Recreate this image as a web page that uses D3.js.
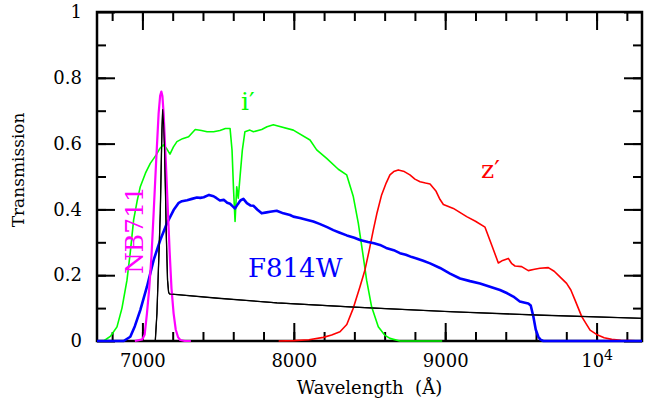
<!DOCTYPE html>
<html>
<head>
<meta charset="utf-8">
<script src="https://cdn.jsdelivr.net/npm/d3@7"></script>
<style>
  body { margin: 0; background: #fff; }
  svg text { font-family: "DejaVu Serif", serif !important; }
</style>
</head>
<body>
<div id="d3-container"></div>
<script>
/* CONSTANTS AND GLOBALS */
const width = 657,
  height = 403,
  margin = { top: 12, bottom: 62, left: 97, right: 15 };

/* DATA */
// i' filter
const iWave = [6700, 6744, 6790, 6832, 6865, 6898, 6920, 6942, 6965, 6986, 7020, 7052, 7090, 7115, 7138, 7160, 7182, 7205, 7228, 7265, 7305, 7349, 7390, 7427, 7470, 7512, 7548, 7579, 7592, 7602, 7612, 7618, 7623, 7633, 7645, 7660, 7677, 7710, 7733, 7788, 7823, 7865, 7889, 7997, 8107, 8151, 8217, 8294, 8349, 8393, 8426, 8459, 8481, 8514, 8558, 8600, 8635, 8700, 8980];
const iTrans = [0, 0, 0.015, 0.043, 0.1, 0.185, 0.27, 0.368, 0.425, 0.469, 0.51, 0.54, 0.565, 0.585, 0.596, 0.585, 0.568, 0.59, 0.606, 0.615, 0.621, 0.643, 0.64, 0.636, 0.636, 0.64, 0.646, 0.646, 0.58, 0.46, 0.363, 0.42, 0.469, 0.434, 0.5, 0.58, 0.636, 0.641, 0.636, 0.643, 0.651, 0.657, 0.654, 0.641, 0.611, 0.581, 0.555, 0.522, 0.505, 0.439, 0.358, 0.256, 0.185, 0.104, 0.043, 0.018, 0.008, 0, 0];

// z' filter
const zWave = [7900, 8000, 8100, 8195, 8250, 8305, 8350, 8393, 8437, 8470, 8500, 8525, 8550, 8580, 8610, 8635, 8660, 8690, 8730, 8767, 8800, 8834, 8870, 8900, 8940, 8966, 8988, 9054, 9142, 9200, 9263, 9307, 9351, 9380, 9417, 9440, 9461, 9505, 9549, 9590, 9626, 9681, 9720, 9758, 9802, 9830, 9857, 9902, 9957, 10000, 10050, 10100, 10160, 10220, 10300];
const zTrans = [0, 0.001, 0.004, 0.011, 0.018, 0.028, 0.05, 0.1, 0.165, 0.216, 0.28, 0.337, 0.39, 0.444, 0.48, 0.505, 0.515, 0.52, 0.515, 0.505, 0.492, 0.484, 0.48, 0.477, 0.455, 0.43, 0.415, 0.403, 0.378, 0.364, 0.346, 0.292, 0.237, 0.245, 0.251, 0.235, 0.228, 0.226, 0.214, 0.218, 0.221, 0.223, 0.212, 0.195, 0.175, 0.155, 0.125, 0.074, 0.033, 0.02, 0.01, 0.005, 0.002, 0.001, 0];

// F814W filter
const fWave = [6700, 6800, 6876, 6920, 6950, 6986, 7030, 7074, 7118, 7162, 7206, 7240, 7261, 7295, 7327, 7360, 7382, 7405, 7440, 7470, 7490, 7512, 7537, 7560, 7579, 7595, 7612, 7630, 7647, 7667, 7690, 7713, 7733, 7760, 7788, 7820, 7843, 7887, 7931, 7975, 7997, 8040, 8090, 8129, 8170, 8220, 8261, 8300, 8350, 8400, 8437, 8490, 8530, 8569, 8610, 8660, 8701, 8740, 8780, 8811, 8855, 8900, 8966, 9032, 9098, 9164, 9230, 9296, 9362, 9410, 9450, 9493, 9520, 9549, 9565, 9582, 9598, 9615, 9630, 9648, 10300];
const fTrans = [0, 0, 0, 0.013, 0.045, 0.094, 0.165, 0.246, 0.307, 0.358, 0.398, 0.42, 0.425, 0.428, 0.432, 0.436, 0.435, 0.437, 0.444, 0.44, 0.434, 0.427, 0.429, 0.42, 0.417, 0.41, 0.403, 0.416, 0.427, 0.432, 0.419, 0.412, 0.411, 0.399, 0.388, 0.391, 0.393, 0.396, 0.388, 0.383, 0.378, 0.374, 0.368, 0.363, 0.356, 0.346, 0.337, 0.33, 0.321, 0.314, 0.307, 0.301, 0.297, 0.292, 0.283, 0.276, 0.267, 0.262, 0.255, 0.251, 0.244, 0.236, 0.222, 0.205, 0.19, 0.182, 0.175, 0.165, 0.155, 0.145, 0.135, 0.12, 0.117, 0.114, 0.108, 0.075, 0.035, 0.013, 0.004, 0, 0];

// NB711 filter
const nbWave = [6950, 7000, 7015, 7030, 7045, 7060, 7074, 7090, 7107, 7117, 7125, 7132, 7140, 7155, 7169, 7180, 7192, 7206, 7220, 7235, 7250, 7280, 7320];
const nbTrans = [0, 0.005, 0.02, 0.084, 0.16, 0.26, 0.388, 0.54, 0.692, 0.745, 0.758, 0.745, 0.692, 0.54, 0.388, 0.27, 0.16, 0.084, 0.035, 0.012, 0.003, 0, 0];

// black curve
const kWave = [7050, 7085, 7096, 7108, 7118, 7125, 7129, 7134, 7140, 7146, 7152, 7157, 7162, 7166, 7173, 7179, 7500, 7889, 8400, 9032, 9600, 10300];
const kTrans = [0, 0, 0.085, 0.25, 0.388, 0.55, 0.641, 0.704, 0.66, 0.59, 0.46, 0.337, 0.25, 0.185, 0.148, 0.143, 0.13, 0.116, 0.103, 0.089, 0.079, 0.069];

// axes
const xMajor = [7000, 8000, 9000, 10000];
const xMinor = d3.range(6800, 10300, 200);
const yMajor = [0, 0.2, 0.4, 0.6, 0.8, 1];
const yMinor = d3.range(0.1, 1, 0.1);

/* SCALES */
const xScale = d3.scaleLinear()
  .domain([6700, 10300])
  .range([margin.left, width - margin.right]);
const yScale = d3.scaleLinear()
  .domain([0, 1])
  .range([height - margin.bottom, margin.top]);

const svg = d3.select("#d3-container")
  .append("svg")
  .attr("width", width)
  .attr("height", height);

/* AXES */
function tickAxis(axis, vals, size, fmt) {
  return axis.tickValues(vals).tickSize(-size).tickFormat(fmt || "");
}
const xFmt = d3.format("d");
const yFmt = d => (d === 0 || d === 1) ? d3.format("d")(d) : d3.format(".1f")(d);

// bottom
svg.append("g").attr("class", "axis")
  .attr("transform", `translate(0,${height - margin.bottom})`)
  .call(tickAxis(d3.axisBottom(xScale), xMinor, 9));
svg.append("g").attr("class", "axis xb")
  .attr("transform", `translate(0,${height - margin.bottom})`)
  .call(tickAxis(d3.axisBottom(xScale), xMajor, 18, xFmt).tickPadding(13));
// top
svg.append("g").attr("class", "axis")
  .attr("transform", `translate(0,${margin.top})`)
  .call(tickAxis(d3.axisTop(xScale), xMinor, 9));
svg.append("g").attr("class", "axis")
  .attr("transform", `translate(0,${margin.top})`)
  .call(tickAxis(d3.axisTop(xScale), xMajor, 18));
// left
svg.append("g").attr("class", "axis")
  .attr("transform", `translate(${margin.left},0)`)
  .call(tickAxis(d3.axisLeft(yScale), yMinor, 9));
svg.append("g").attr("class", "axis")
  .attr("transform", `translate(${margin.left},0)`)
  .call(tickAxis(d3.axisLeft(yScale), yMajor, 18, yFmt).tickPadding(15));
// right
svg.append("g").attr("class", "axis")
  .attr("transform", `translate(${width - margin.right},0)`)
  .call(tickAxis(d3.axisRight(yScale), yMinor, 9));
svg.append("g").attr("class", "axis")
  .attr("transform", `translate(${width - margin.right},0)`)
  .call(tickAxis(d3.axisRight(yScale), yMajor, 18));

svg.selectAll(".axis").attr("font-family", null);
svg.selectAll(".axis .domain").remove();
svg.selectAll(".axis line").attr("stroke", "#000").attr("stroke-width", 2);
svg.selectAll(".axis text")
  .attr("font-size", 18)
  .attr("fill", "#000");

// 10^4 label
svg.selectAll(".xb .tick text")
  .filter(d => d === 10000)
  .text("10")
  .append("tspan")
  .attr("dy", "-0.45em")
  .attr("font-size", 14)
  .text("4");

/* CURVES */
const line = d3.line()
  .x(d => xScale(d[0]))
  .y(d => yScale(d[1]));

const curves = [
  { wave: kWave, trans: kTrans, color: "#000000", w: 1.3 },
  { wave: iWave, trans: iTrans, color: "#00ff00", w: 1.6 },
  { wave: zWave, trans: zTrans, color: "#ff0000", w: 1.6 },
  { wave: fWave, trans: fTrans, color: "#0000ff", w: 2.6 },
  { wave: nbWave, trans: nbTrans, color: "#ff00ff", w: 2.2 }
];

svg.append("rect")
  .attr("x", margin.left)
  .attr("y", margin.top)
  .attr("width", width - margin.left - margin.right)
  .attr("height", height - margin.top - margin.bottom)
  .attr("fill", "none")
  .attr("stroke", "#000")
  .attr("stroke-width", 2.5);

svg.selectAll(".curve")
  .data(curves)
  .join("path")
  .attr("class", "curve")
  .attr("d", c => line(c.wave.map((w, i) => [w, c.trans[i]])))
  .attr("fill", "none")
  .attr("stroke", c => c.color)
  .attr("stroke-width", c => c.w)
  .attr("stroke-linejoin", "round");

// black curve on top of NB711
svg.append("path")
  .attr("d", line(kWave.map((w, i) => [w, kTrans[i]])))
  .attr("fill", "none")
  .attr("stroke", "#000")
  .attr("stroke-width", 1.1);

/* LABELS */
svg.append("text")
  .attr("x", 241).attr("y", 110)
  .attr("font-size", 25)
  .attr("fill", "#00ff00")
  .text("i′");
svg.append("text")
  .attr("x", 481).attr("y", 178)
  .attr("font-size", 25)
  .attr("fill", "#ff0000")
  .text("z′");
svg.append("text")
  .attr("x", 248).attr("y", 277)
  .attr("font-size", 26)
  .attr("fill", "#0000ff")
  .text("F814W");
svg.append("text")
  .attr("transform", "translate(143,274) rotate(-90)")
  .attr("font-size", 25)
  .attr("fill", "#ff00ff")
  .text("NB711");

svg.append("text")
  .attr("x", xScale(8500)).attr("y", 394)
  .attr("text-anchor", "middle")
  .attr("font-size", 18)
  .style("white-space", "pre")
  .text("Wavelength  (Å)");
svg.append("text")
  .attr("transform", `translate(24,${yScale(0.52)}) rotate(-90)`)
  .attr("text-anchor", "middle")
  .attr("font-size", 17)
  .text("Transmission");
</script>
</body>
</html>
